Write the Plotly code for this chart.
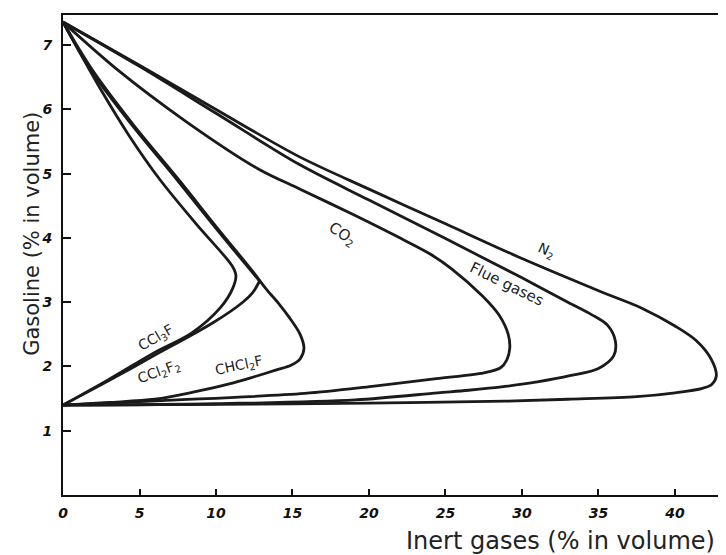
import plotly.graph_objects as go

# ---- data ----
# Flammability envelopes of gasoline vapour with added inert gases
n2_x = [0, 5, 10, 15.4, 20, 25, 30, 35.2, 37.9, 40.0, 41.4, 42.4, 42.7, 42.4, 41.8, 40.0, 37.5, 33.0, 28.9, 20.0, 10.0, 0]
n2_y = [7.36, 6.69, 6.00, 5.27, 4.76, 4.22, 3.68, 3.16, 2.90, 2.63, 2.40, 2.10, 1.85, 1.72, 1.66, 1.59, 1.53, 1.49, 1.46, 1.43, 1.41, 1.40]

flue_x = [0, 5, 10, 15.4, 20, 25, 30, 33.0, 34.6, 35.6, 36.1, 36.0, 35.0, 33.2, 31.0, 28.9, 26.5, 24.5, 19.1, 10, 0]
flue_y = [7.36, 6.67, 5.94, 5.15, 4.59, 3.99, 3.38, 3.00, 2.80, 2.64, 2.40, 2.17, 1.97, 1.86, 1.76, 1.69, 1.63, 1.59, 1.48, 1.42, 1.40]

co2_x = [0, 3.55, 8.0, 12.8, 15.5, 19.0, 22.1, 24.0, 25.4, 27.4, 28.5, 29.1, 29.2, 29.0, 28.6, 27.5, 24.4, 20.2, 15.8, 6.5, 0]
co2_y = [7.36, 6.62, 5.82, 5.07, 4.76, 4.36, 3.99, 3.75, 3.52, 3.10, 2.80, 2.50, 2.28, 2.10, 1.98, 1.90, 1.81, 1.69, 1.58, 1.47, 1.40]

ccl3f_x = [0, 2.47, 4.3, 6.33, 8.7, 11.04, 11.3, 11.1, 10.3, 8.4, 6.0, 3.0, 0]
ccl3f_y = [7.36, 6.31, 5.60, 4.91, 4.22, 3.57, 3.42, 3.22, 2.92, 2.52, 2.22, 1.80, 1.40]

ccl2f2_upper_x = [0, 1.8, 4.5, 7.44, 10.0, 12.85]
ccl2f2_upper_y = [7.36, 6.62, 5.76, 4.91, 4.15, 3.33]
ccl2f2_lower_x = [12.85, 12.4, 11.75, 9.8, 5.8, 3.0, 0]
ccl2f2_lower_y = [3.33, 3.15, 3.00, 2.68, 2.15, 1.78, 1.40]

chcl2f_x = [0, 1.9, 4.6, 7.55, 10.1, 12.4, 13.3, 14.1, 14.8, 15.5, 15.75, 15.5, 14.9, 14.0, 12.5, 11.2, 8.5, 6.0, 3.0, 0]
chcl2f_y = [7.36, 6.62, 5.76, 4.91, 4.15, 3.48, 3.20, 2.98, 2.76, 2.50, 2.28, 2.12, 2.02, 1.95, 1.84, 1.75, 1.60, 1.49, 1.44, 1.40]

x_ticks = [0, 5, 10, 15, 20, 25, 30, 35, 40]
y_ticks = [1, 2, 3, 4, 5, 6, 7]

curves = [
    (n2_x, n2_y),
    (flue_x, flue_y),
    (co2_x, co2_y),
    (ccl3f_x, ccl3f_y),
    (ccl2f2_upper_x, ccl2f2_upper_y),
    (ccl2f2_lower_x, ccl2f2_lower_y),
    (chcl2f_x, chcl2f_y),
]

# curve labels: (text, x, y, angle, size)
labels = [
    ("N<sub>2</sub>", 31.6, 3.80, 24, 14),
    ("Flue gases", 29.0, 3.29, 26, 15),
    ("CO<sub>2</sub>", 18.3, 4.06, 34, 15),
    ("CCl<sub>3</sub>F", 6.1, 2.45, -30, 14),
    ("CCl<sub>2</sub>F<sub>2</sub>", 6.3, 1.92, -20, 14),
    ("CHCl<sub>2</sub>F", 11.5, 2.00, -12, 14),
]

fig = go.Figure()
for cx, cy in curves:
    fig.add_trace(go.Scatter(
        x=cx, y=cy, mode="lines",
        line=dict(color="#1a1a1a", width=2.8, shape="spline", smoothing=0.9),
        showlegend=False, hoverinfo="skip",
    ))

for text, lx, ly, ang, sz in labels:
    fig.add_annotation(
        x=lx, y=ly, xref="x", yref="y", text=text, showarrow=False,
        textangle=ang, font=dict(family="DejaVu Sans", size=sz, color="#222"),
    )

fig.add_annotation(
    x=0.749, y=-0.095, xref="paper", yref="paper", xanchor="center", yanchor="middle",
    text="Inert gases (% in volume)", showarrow=False,
    font=dict(family="DejaVu Sans", size=24, color="#222"),
)
fig.add_annotation(
    x=-0.046, y=0.545, xref="paper", yref="paper", xanchor="center", yanchor="middle",
    text="Gasoline (% in volume)", showarrow=False, textangle=-90,
    font=dict(family="DejaVu Sans", size=21, color="#222"),
)

tickfont = dict(family="DejaVu Sans", size=14, color="#111", style="italic", weight="bold")

fig.update_xaxes(
    range=[0, 43.4], tickvals=x_ticks, ticktext=[str(v) for v in x_ticks],
    ticks="inside", ticklen=6, tickwidth=1.5, tickcolor="#111",
    showline=True, linecolor="#111", linewidth=2, mirror=True,
    showgrid=False, zeroline=False, tickfont=tickfont, ticklabelstandoff=4,
)
fig.update_yaxes(
    range=[0, 7.47], tickvals=y_ticks, ticktext=[str(v) for v in y_ticks],
    ticks="inside", ticklen=8, tickwidth=1.5, tickcolor="#111",
    showline=True, linecolor="#111", linewidth=2, mirror=True,
    showgrid=False, zeroline=False, tickfont=tickfont, ticklabelstandoff=6,
)

fig.update_layout(
    width=726, height=555,
    margin=dict(l=55, r=6, t=5, b=68),
    paper_bgcolor="white", plot_bgcolor="white",
)

fig.write_html("out.html")
